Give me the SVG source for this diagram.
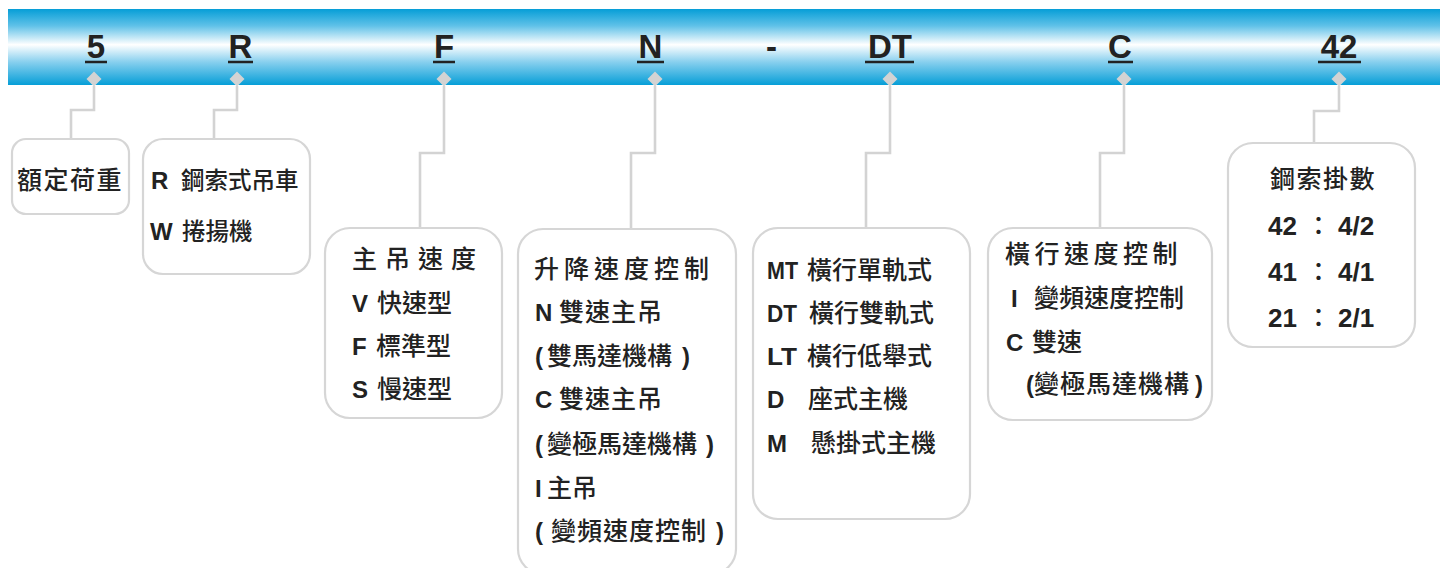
<svg xmlns="http://www.w3.org/2000/svg" width="1440" height="568" viewBox="0 0 1440 568">
<defs>
<linearGradient id="bar" x1="0" y1="0" x2="0" y2="1">
<stop offset="0" stop-color="#069ed7"/>
<stop offset="0.22" stop-color="#5fc1e8"/>
<stop offset="0.47" stop-color="#ffffff"/>
<stop offset="0.7" stop-color="#86cfee"/>
<stop offset="1" stop-color="#069ed7"/>
</linearGradient>
</defs>
<style>
.box{fill:#fff;stroke:#d6d6d6;stroke-width:2.2}
.con{fill:none;stroke:#d3d3d3;stroke-width:2.6}
.dia{fill:#d3d3d3}
.code{font-family:'Liberation Sans',Arial,sans-serif;font-weight:bold;font-size:33px;fill:#222;text-anchor:middle}
.ul{stroke:#222;stroke-width:2.6}
text{fill:#222}
.l{font-family:'Liberation Sans',Arial,sans-serif;font-weight:bold;font-size:24px}
.c{font-family:'Noto Sans CJK TC','Noto Sans CJK SC',sans-serif;font-weight:500;font-size:25px}
.c2{font-size:23.5px}
.n{font-size:26px}
</style>
<rect x="8" y="9" width="1432" height="76" fill="url(#bar)"/>
<g id="codes">
<text class="code" x="96" y="58">5</text>
<text class="code" x="240.5" y="58">R</text>
<text class="code" x="444" y="58">F</text>
<text class="code" x="650.5" y="58">N</text>
<text class="code" x="771.5" y="58">-</text>
<text class="code" x="890" y="58">DT</text>
<text class="code" x="1120" y="58">C</text>
<text class="code" x="1339" y="58">42</text>
<path class="ul" d="M85,62H107M228,62H253M433,62H455M637,62H664M865,62H914M1108,62H1133M1318,62H1361"/>
</g>
<g id="connectors">
<path class="con" d="M94,86V110H71V139"/>
<path class="con" d="M237,86V110H214V139"/>
<path class="con" d="M444,86V153H420V228"/>
<path class="con" d="M655,86V153H631V229"/>
<path class="con" d="M890,86V153H866V228"/>
<path class="con" d="M1124,86V153H1100V228"/>
<path class="con" d="M1339,86V111H1314V143"/>
<path class="dia" d="M94,71.5L101.5,79L94,86.5L86.5,79Z"/>
<path class="dia" d="M237,71.5L244.5,79L237,86.5L229.5,79Z"/>
<path class="dia" d="M444,71.5L451.5,79L444,86.5L436.5,79Z"/>
<path class="dia" d="M655,71.5L662.5,79L655,86.5L647.5,79Z"/>
<path class="dia" d="M890,71.5L897.5,79L890,86.5L882.5,79Z"/>
<path class="dia" d="M1124,71.5L1131.5,79L1124,86.5L1116.5,79Z"/>
<path class="dia" d="M1339,71.5L1346.5,79L1339,86.5L1331.5,79Z"/>
</g>
<g id="node-load">
<rect class="box" x="12" y="139" width="117" height="75" rx="14"/>
<text class="c" x="17" y="189" letter-spacing="1.5">額定荷重</text>
</g>
<g id="node-type">
<rect class="box" x="143" y="139" width="167" height="135" rx="20"/>
<text y="189"><tspan class="l" x="151">R</tspan><tspan class="c c2" x="181">鋼索式吊車</tspan></text>
<text y="240"><tspan class="l" x="150">W</tspan><tspan class="c c2" x="182">捲揚機</tspan></text>
</g>
<g id="node-main-speed">
<rect class="box" x="325" y="228" width="177" height="190" rx="25"/>
<text class="c" x="352" y="268" letter-spacing="8">主吊速度</text>
<text y="312"><tspan class="l" x="352">V</tspan><tspan class="c" x="377">快速型</tspan></text>
<text y="355"><tspan class="l" x="352">F</tspan><tspan class="c" x="376">標準型</tspan></text>
<text y="398"><tspan class="l" x="352">S</tspan><tspan class="c" x="377">慢速型</tspan></text>
</g>
<g id="node-hoist-speed">
<rect class="box" x="518" y="229" width="218" height="345" rx="25"/>
<text class="c" x="534" y="278" letter-spacing="5">升降速度控制</text>
<text y="321"><tspan class="l" x="535">N</tspan><tspan class="c" x="559" letter-spacing="1">雙速主吊</tspan></text>
<text y="365"><tspan class="l" x="535">(</tspan><tspan class="c" x="547">雙馬達機構</tspan><tspan class="l" x="682">)</tspan></text>
<text y="408"><tspan class="l" x="535">C</tspan><tspan class="c" x="559" letter-spacing="1">雙速主吊</tspan></text>
<text y="453"><tspan class="l" x="535">(</tspan><tspan class="c" x="547">變極馬達機構</tspan><tspan class="l" x="706">)</tspan></text>
<text y="497"><tspan class="l" x="535">I</tspan><tspan class="c" x="547">主吊</tspan></text>
<text y="540"><tspan class="l" x="535">(</tspan><tspan class="c" x="551" letter-spacing="1">變頻速度控制</tspan><tspan class="l" x="716">)</tspan></text>
</g>
<g id="node-travel">
<rect class="box" x="753" y="228" width="217" height="291" rx="25"/>
<text y="279"><tspan class="l" x="767" textLength="31" lengthAdjust="spacingAndGlyphs">MT</tspan><tspan class="c" x="807">橫行單軌式</tspan></text>
<text y="322"><tspan class="l" x="767" textLength="30" lengthAdjust="spacingAndGlyphs">DT</tspan><tspan class="c" x="809">橫行雙軌式</tspan></text>
<text y="365"><tspan class="l" x="767" textLength="30" lengthAdjust="spacingAndGlyphs">LT</tspan><tspan class="c" x="807">橫行低舉式</tspan></text>
<text y="408"><tspan class="l" x="767">D</tspan><tspan class="c" x="808">座式主機</tspan></text>
<text y="452"><tspan class="l" x="767">M</tspan><tspan class="c" x="811">懸掛式主機</tspan></text>
</g>
<g id="node-travel-speed">
<rect class="box" x="988" y="228" width="224" height="192" rx="25"/>
<text class="c" x="1005" y="263" letter-spacing="4.5">橫行速度控制</text>
<text y="307"><tspan class="l" x="1011">I</tspan><tspan class="c" x="1034">變頻速度控制</tspan></text>
<text y="351"><tspan class="l" x="1006">C</tspan><tspan class="c" x="1032">雙速</tspan></text>
<text y="393"><tspan class="l" x="1026">(</tspan><tspan class="c" x="1034" letter-spacing="1">變極馬達機構</tspan><tspan class="l" x="1195">)</tspan></text>
</g>
<g id="node-rope">
<rect class="box" x="1228" y="143" width="187" height="204" rx="25"/>
<text class="c" x="1270" y="188" letter-spacing="1.5">鋼索掛數</text>
<text y="235"><tspan class="l n" x="1268">42</tspan><tspan class="c" x="1306">：</tspan><tspan class="l n" x="1338">4/2</tspan></text>
<text y="281"><tspan class="l n" x="1268">41</tspan><tspan class="c" x="1306">：</tspan><tspan class="l n" x="1338">4/1</tspan></text>
<text y="327"><tspan class="l n" x="1268">21</tspan><tspan class="c" x="1306">：</tspan><tspan class="l n" x="1338">2/1</tspan></text>
</g>
</svg>
